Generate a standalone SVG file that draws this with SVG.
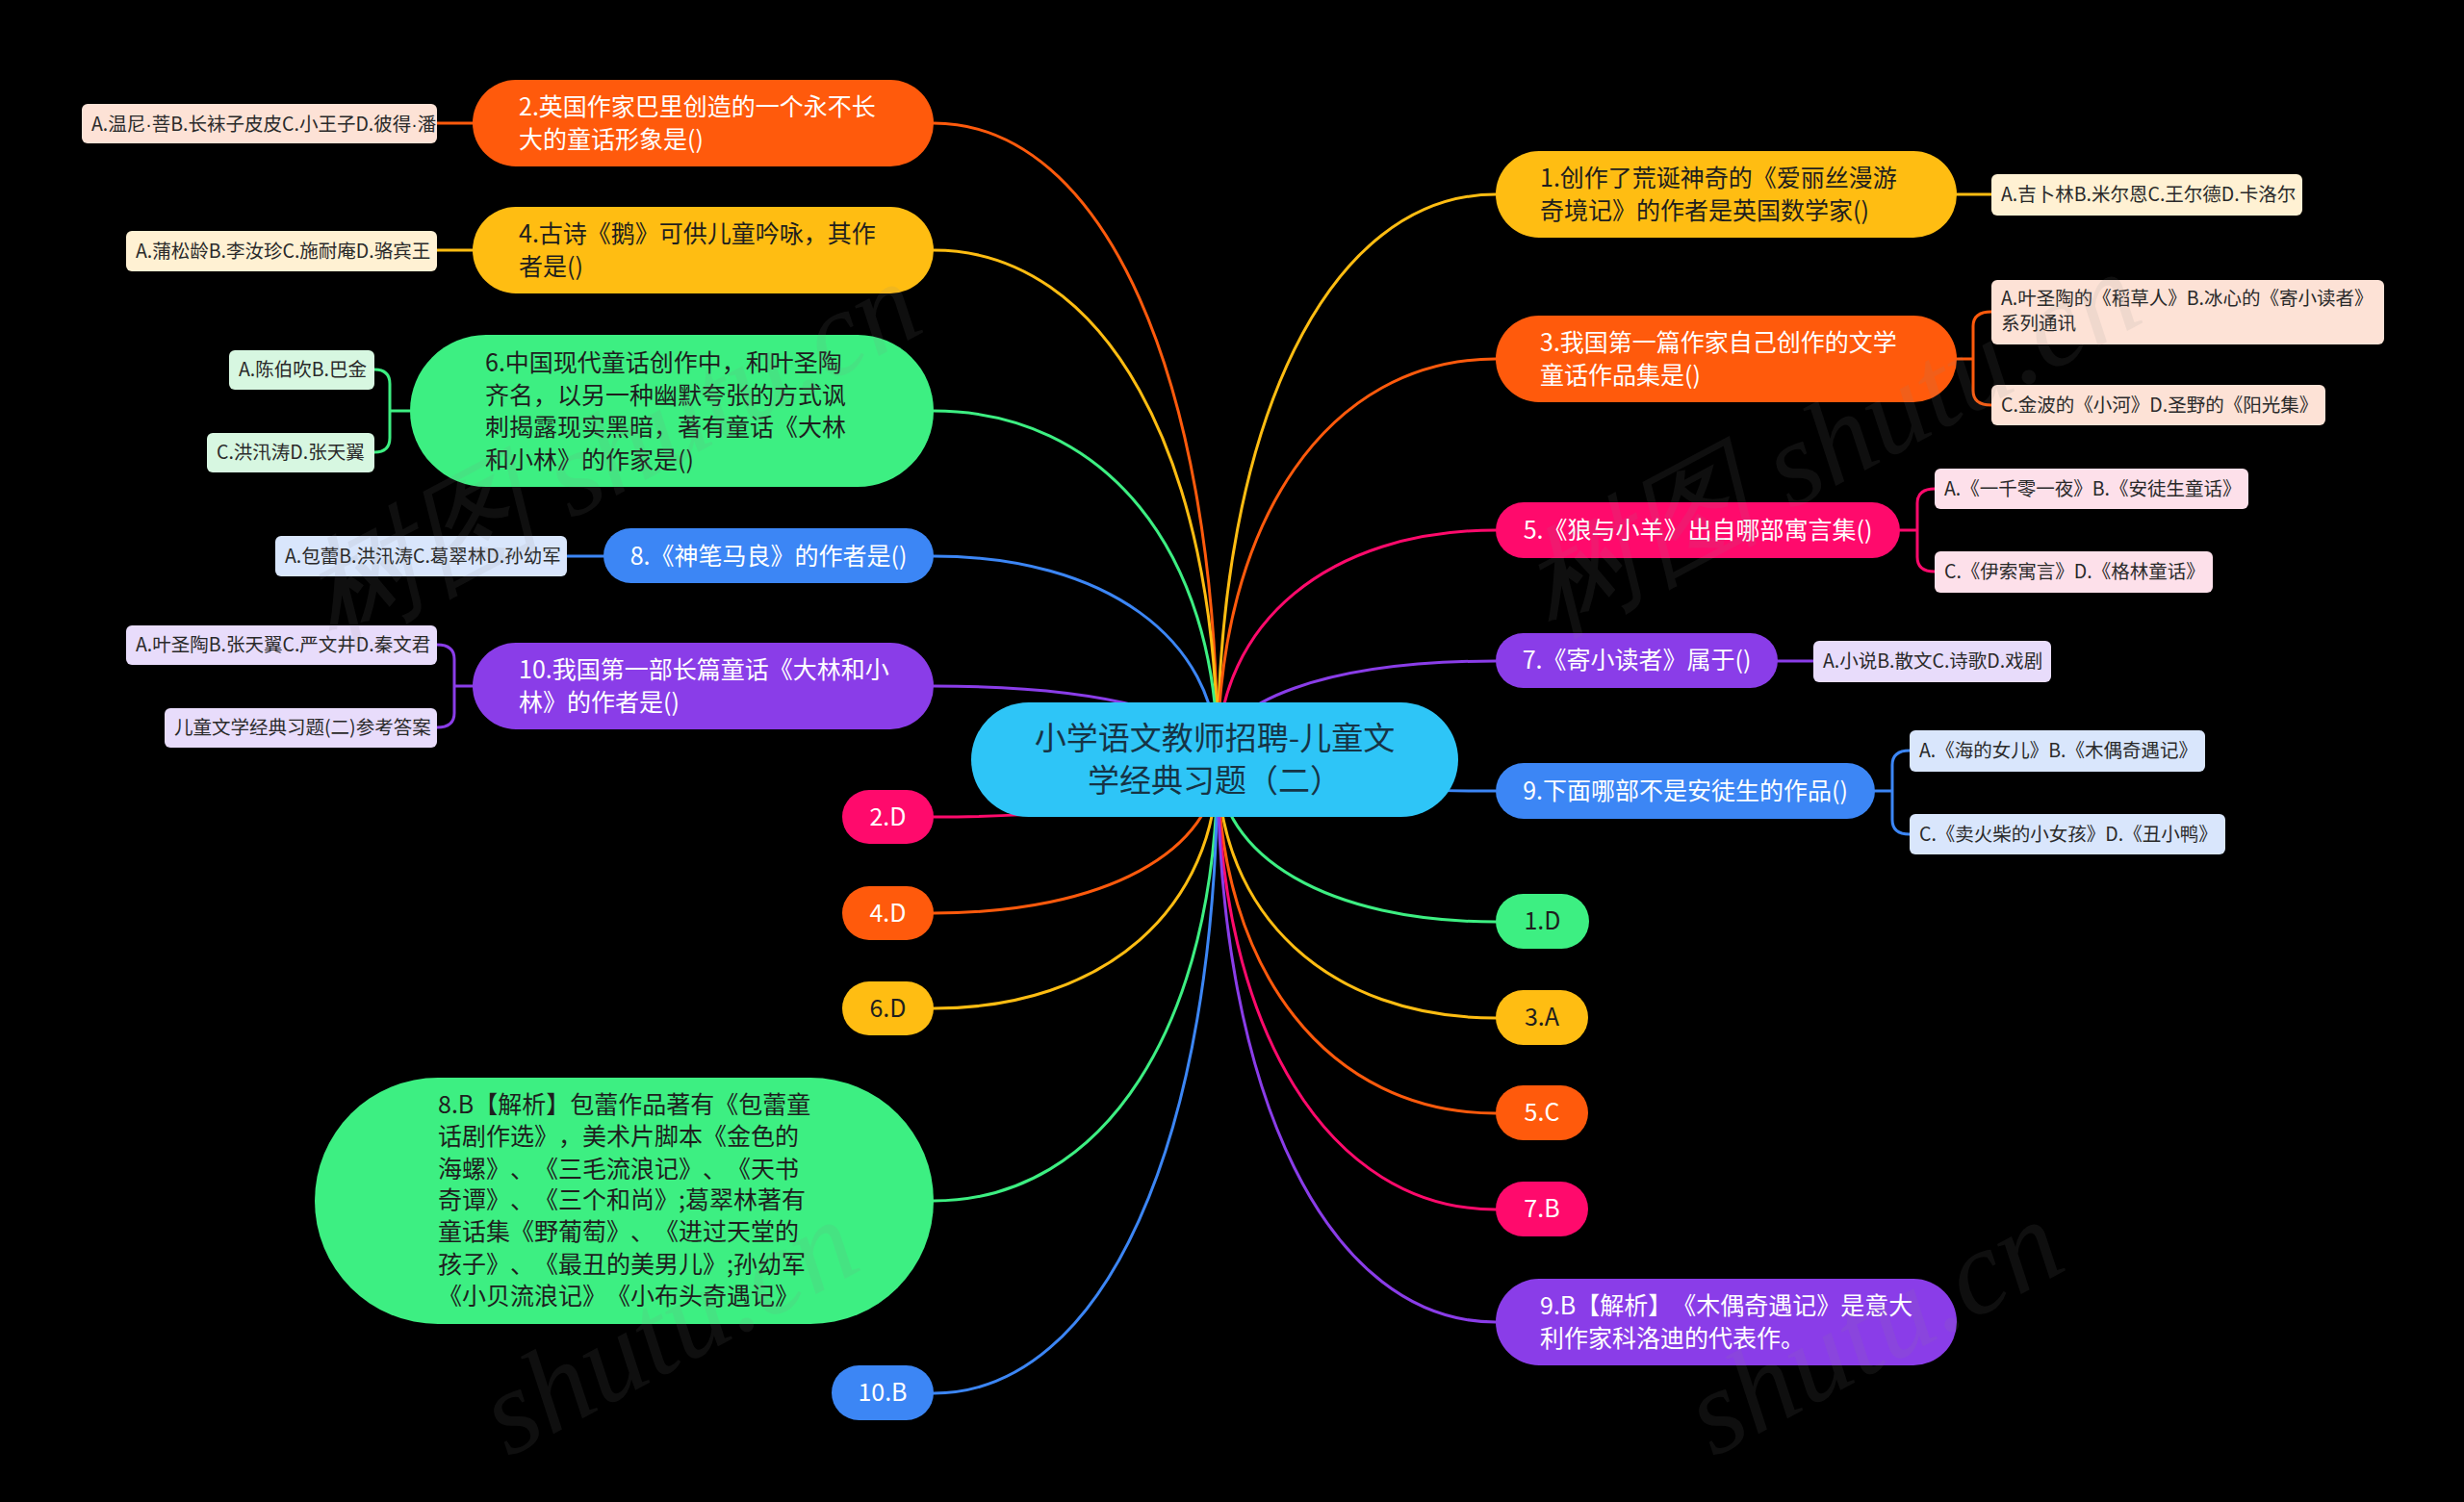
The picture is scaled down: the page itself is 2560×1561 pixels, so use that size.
<svg xmlns="http://www.w3.org/2000/svg" width="2560" height="1561" viewBox="0 0 2560 1561">
<style>
text{font-family:"Noto Sans CJK SC","Microsoft YaHei","Noto Sans",sans-serif;text-spacing-trim:space-all}
.q{font-size:25px}
.c{font-size:19.5px;fill:#2a2a2a}
.w{fill:#ffffff}
.d{fill:#1e1e1e}
.mid{text-anchor:middle}
.dot{font-family:"Liberation Sans",sans-serif}
.ln{fill:none;stroke-width:3;stroke-linecap:round}
.o{stroke:#ff5a0c}.y{stroke:#ffbd12}.g{stroke:#3def82}.b{stroke:#3c86f5}.p{stroke:#8a3de8}.k{stroke:#ff0a6c}
.wm{font-family:"Liberation Serif",serif;font-style:italic;font-size:125px;fill:#8a8a8a;opacity:0.11}
</style>
<rect x="0" y="0" width="2560" height="1561" fill="#000000"/>
<g id="connectors">
<path class="ln o" d="M970,128 C1147,128 1265,393 1265,790"/>
<path class="ln y" d="M970,260 C1147,260 1265,472 1265,790"/>
<path class="ln g" d="M970,427 C1147,427 1265,572 1265,790"/>
<path class="ln b" d="M970,578 C1147,578 1265,663 1265,790"/>
<path class="ln p" d="M970,713 C1147,713 1265,744 1265,790"/>
<path class="ln k" d="M970,849 C1147,849 1265,825 1265,790"/>
<path class="ln o" d="M970,949 C1147,949 1265,885 1265,790"/>
<path class="ln y" d="M970,1048 C1147,1048 1265,945 1265,790"/>
<path class="ln g" d="M970,1248 C1147,1248 1265,1065 1265,790"/>
<path class="ln b" d="M970,1448 C1147,1448 1265,1185 1265,790"/>
<path class="ln y" d="M1554,202 C1381,202 1265,437 1265,790"/>
<path class="ln o" d="M1554,373 C1381,373 1265,540 1265,790"/>
<path class="ln k" d="M1554,551 C1381,551 1265,647 1265,790"/>
<path class="ln p" d="M1554,687 C1381,687 1265,728 1265,790"/>
<path class="ln b" d="M1554,822 C1381,822 1265,809 1265,790"/>
<path class="ln g" d="M1554,958 C1381,958 1265,891 1265,790"/>
<path class="ln y" d="M1554,1058 C1381,1058 1265,951 1265,790"/>
<path class="ln o" d="M1554,1157 C1381,1157 1265,1010 1265,790"/>
<path class="ln k" d="M1554,1257 C1381,1257 1265,1070 1265,790"/>
<path class="ln p" d="M1554,1374 C1381,1374 1265,1140 1265,790"/>
<path class="ln o" d="M491,128 H454"/>
<path class="ln y" d="M491,260 H454"/>
<path class="ln g" d="M426,427 H405 M405,427 V399 Q405,384 389,384 M405,427 V455 Q405,470 389,470"/>
<path class="ln b" d="M627,578 H589"/>
<path class="ln p" d="M491,713 H472 M472,713 V685 Q472,670 454,670 M472,713 V741 Q472,756 454,756"/>
<path class="ln y" d="M2033,202 H2069"/>
<path class="ln o" d="M2033,373 H2050 M2050,373 V339 Q2050,324 2069,324 M2050,373 V406 Q2050,421 2069,421"/>
<path class="ln k" d="M1974,551 H1992 M1992,551 V523 Q1992,508 2010,508 M1992,551 V579 Q1992,594 2010,594"/>
<path class="ln p" d="M1847,687 H1884"/>
<path class="ln b" d="M1948,822 H1966 M1966,822 V795 Q1966,780 1984,780 M1966,822 V852 Q1966,867 1984,867"/>
</g>
<g id="center">
<rect x="1009" y="730" width="506" height="119" rx="59.5" fill="#2ec5f7"/>
<text class="mid" x="1262" y="779" font-size="33" fill="#163446">小学语文教师招聘-儿童文</text>
<text class="mid" x="1262" y="823" font-size="33" fill="#163446">学经典习题（二）</text>
</g>
<g id="q2">
<rect x="491" y="83" width="479" height="90" rx="45" fill="#ff5a0c"/>
<text class="q w" x="539" y="120">2.英国作家巴里创造的一个永不长</text>
<text class="q w" x="539" y="154">大的童话形象是()</text>
</g>
<g id="q2c"><rect x="85" y="108" width="369" height="41" rx="6" fill="#fde2d6"/><text class="c" x="95" y="135.5">A.温尼<tspan class="dot">·</tspan>菩B.长袜子皮皮C.小王子D.彼得<tspan class="dot">·</tspan>潘</text></g>
<g id="q4">
<rect x="491" y="215" width="479" height="90" rx="45" fill="#ffbd12"/>
<text class="q d" x="539" y="252">4.古诗《鹅》可供儿童吟咏，其作</text>
<text class="q d" x="539" y="286">者是()</text>
</g>
<g id="q4c"><rect x="131" y="240" width="323" height="42" rx="6" fill="#fff1d3"/><text class="c" x="141" y="268">A.蒲松龄B.李汝珍C.施耐庵D.骆宾王</text></g>
<g id="q6">
<rect x="426" y="348" width="544" height="158" rx="79" fill="#3def82"/>
<text class="q d" x="504" y="386">6.中国现代童话创作中，和叶圣陶</text>
<text class="q d" x="504" y="420">齐名，以另一种幽默夸张的方式讽</text>
<text class="q d" x="504" y="453">刺揭露现实黑暗，著有童话《大林</text>
<text class="q d" x="504" y="487">和小林》的作家是()</text>
</g>
<g id="q6a"><rect x="238" y="364" width="151" height="41" rx="6" fill="#d7f7e1"/><text class="c" x="248" y="391">A.陈伯吹B.巴金</text></g>
<g id="q6b"><rect x="215" y="450" width="174" height="41" rx="6" fill="#d7f7e1"/><text class="c" x="225" y="477">C.洪汛涛D.张天翼</text></g>
<g id="q8">
<rect x="627" y="549" width="343" height="57" rx="28.5" fill="#3c86f5"/>
<text class="q w mid" x="798.5" y="587">8.《神笔马良》的作者是()</text>
</g>
<g id="q8c"><rect x="286" y="557" width="303" height="42" rx="6" fill="#d9e6fc"/><text class="c" x="296" y="585">A.包蕾B.洪汛涛C.葛翠林D.孙幼军</text></g>
<g id="q10">
<rect x="491" y="668" width="479" height="90" rx="45" fill="#8a3de8"/>
<text class="q w" x="539" y="705">10.我国第一部长篇童话《大林和小</text>
<text class="q w" x="539" y="739">林》的作者是()</text>
</g>
<g id="q10a"><rect x="131" y="650" width="323" height="41" rx="6" fill="#e8dcfb"/><text class="c" x="141" y="677">A.叶圣陶B.张天翼C.严文井D.秦文君</text></g>
<g id="q10b"><rect x="171" y="736" width="283" height="41" rx="6" fill="#e8dcfb"/><text class="c" x="181" y="763">儿童文学经典习题(二)参考答案</text></g>
<g id="a2"><rect x="875" y="821" width="95" height="56" rx="28" fill="#ff0a6c"/><text class="q w mid" x="922.5" y="858">2.D</text></g>
<g id="a4"><rect x="875" y="921" width="95" height="56" rx="28" fill="#ff5a0c"/><text class="q w mid" x="922.5" y="958">4.D</text></g>
<g id="a6"><rect x="875" y="1020" width="95" height="56" rx="28" fill="#ffbd12"/><text class="q d mid" x="922.5" y="1057">6.D</text></g>
<g id="a8">
<rect x="327" y="1120" width="643" height="256" rx="128" fill="#3def82"/>
<text class="q d" x="455" y="1157">8.B【解析】包蕾作品著有《包蕾童</text>
<text class="q d" x="455" y="1190">话剧作选》，美术片脚本《金色的</text>
<text class="q d" x="455" y="1224">海螺》、《三毛流浪记》、《天书</text>
<text class="q d" x="455" y="1256">奇谭》、《三个和尚》;葛翠林著有</text>
<text class="q d" x="455" y="1289">童话集《野葡萄》、《进过天堂的</text>
<text class="q d" x="455" y="1323">孩子》、《最丑的美男儿》;孙幼军</text>
<text class="q d" x="455" y="1356">《小贝流浪记》《小布头奇遇记》</text>
</g>
<g id="a10"><rect x="864" y="1419" width="106" height="57" rx="28.5" fill="#3c86f5"/><text class="q w mid" x="917" y="1456">10.B</text></g>
<g id="q1">
<rect x="1554" y="157" width="479" height="90" rx="45" fill="#ffbd12"/>
<text class="q d" x="1600" y="194">1.创作了荒诞神奇的《爱丽丝漫游</text>
<text class="q d" x="1600" y="228">奇境记》的作者是英国数学家()</text>
</g>
<g id="q1c"><rect x="2069" y="181" width="323" height="43" rx="6" fill="#fff1d3"/><text class="c" x="2079" y="209">A.吉卜林B.米尔恩C.王尔德D.卡洛尔</text></g>
<g id="q3">
<rect x="1554" y="328" width="479" height="90" rx="45" fill="#ff5a0c"/>
<text class="q w" x="1600" y="365">3.我国第一篇作家自己创作的文学</text>
<text class="q w" x="1600" y="399">童话作品集是()</text>
</g>
<g id="q3a"><rect x="2069" y="291" width="408" height="67" rx="6" fill="#fde2d6"/><text class="c" x="2079" y="317">A.叶圣陶的《稻草人》B.冰心的《寄小读者》</text><text class="c" x="2079" y="343">系列通讯</text></g>
<g id="q3b"><rect x="2069" y="400" width="347" height="42" rx="6" fill="#fde2d6"/><text class="c" x="2079" y="428">C.金波的《小河》D.圣野的《阳光集》</text></g>
<g id="q5">
<rect x="1554" y="522" width="420" height="58" rx="29" fill="#ff0a6c"/>
<text class="q w mid" x="1764" y="560">5.《狼与小羊》出自哪部寓言集()</text>
</g>
<g id="q5a"><rect x="2010" y="487" width="326" height="42" rx="6" fill="#fde0ea"/><text class="c" x="2020" y="515">A.《一千零一夜》B.《安徒生童话》</text></g>
<g id="q5b"><rect x="2010" y="573" width="289" height="43" rx="6" fill="#fde0ea"/><text class="c" x="2020" y="601">C.《伊索寓言》D.《格林童话》</text></g>
<g id="q7">
<rect x="1554" y="658" width="293" height="57" rx="28.5" fill="#8a3de8"/>
<text class="q w mid" x="1700.5" y="695">7.《寄小读者》属于()</text>
</g>
<g id="q7c"><rect x="1884" y="666" width="247" height="43" rx="6" fill="#e8dcfb"/><text class="c" x="1894" y="694">A.小说B.散文C.诗歌D.戏剧</text></g>
<g id="q9">
<rect x="1554" y="793" width="394" height="58" rx="29" fill="#3c86f5"/>
<text class="q w mid" x="1751" y="831">9.下面哪部不是安徒生的作品()</text>
</g>
<g id="q9a"><rect x="1984" y="759" width="307" height="43" rx="6" fill="#d9e6fc"/><text class="c" x="1994" y="787">A.《海的女儿》B.《木偶奇遇记》</text></g>
<g id="q9b"><rect x="1984" y="846" width="328" height="42" rx="6" fill="#d9e6fc"/><text class="c" x="1994" y="874">C.《卖火柴的小女孩》D.《丑小鸭》</text></g>
<g id="a1"><rect x="1554" y="929" width="97" height="57" rx="28.5" fill="#3def82"/><text class="q d mid" x="1602.5" y="966">1.D</text></g>
<g id="a3"><rect x="1554" y="1029" width="96" height="57" rx="28.5" fill="#ffbd12"/><text class="q d mid" x="1602" y="1066">3.A</text></g>
<g id="a5"><rect x="1554" y="1128" width="96" height="57" rx="28.5" fill="#ff5a0c"/><text class="q w mid" x="1602" y="1165">5.C</text></g>
<g id="a7"><rect x="1554" y="1228" width="96" height="57" rx="28.5" fill="#ff0a6c"/><text class="q w mid" x="1602" y="1265">7.B</text></g>
<g id="a9">
<rect x="1554" y="1329" width="479" height="90" rx="45" fill="#8a3de8"/>
<text class="q w" x="1600" y="1366">9.B【解析】《木偶奇遇记》是意大</text>
<text class="q w" x="1600" y="1400">利作家科洛迪的代表作。</text>
</g>
<g id="watermarks">
<text class="wm" transform="translate(345,672) rotate(-28)">树图 shutu.cn</text>
<text class="wm" transform="translate(1612,662) rotate(-28)">树图 shutu.cn</text>
<text class="wm" transform="translate(528,1515) rotate(-28)">shutu.cn</text>
<text class="wm" transform="translate(1780,1515) rotate(-28)">shutu.cn</text>
</g>
</svg>
